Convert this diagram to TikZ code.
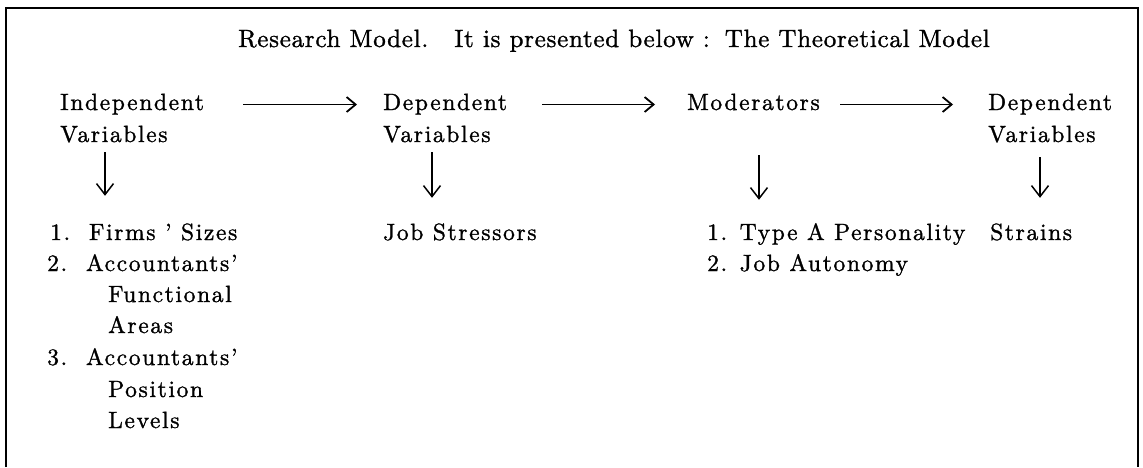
\documentclass[tikz,border=0pt]{standalone}
\usepackage{fontspec}
\setmainfont{lmroman10-regular.otf}[LetterSpace=7,FakeBold=1.2]
\usetikzlibrary{arrows.meta}

\begin{document}
\begin{tikzpicture}[x=1pt,y=-1pt,
    txt/.style={inner sep=0pt, anchor=base west, font=\fontsize{23.5}{31}\selectfont,
      text height=16pt, text depth=5pt},
    harr/.style={line width=1.8pt, -{Straight Barb[length=9pt,width=15pt]}},
    varr/.style={line width=1.5pt, -{Straight Barb[length=11pt,width=17pt]}}]
  \useasboundingbox (0,0) rectangle (1143,467);
  % frame, open at the bottom
  \draw[line width=2.2pt] (6,467) -- (6,8) -- (1138,8) -- (1138,467);

  \node[txt, font=\fontsize{25}{31}\selectfont\addfontfeature{LetterSpace=3}] (title) at (238,47)
    {Research Model.\hspace{26pt}It is presented below :\hspace{15pt}The Theoretical Model};

  % top row
  \node[txt] (indep) at (60,110) {Independent};
  \node[txt] (indepvar) at (60,142) {Variables};
  \node[txt] (depa) at (383,110) {Dependent};
  \node[txt] (depavar) at (383,142) {Variables};
  \node[txt] (moder) at (687,110) {Moderators};
  \node[txt] (depb) at (988,110) {Dependent};
  \node[txt] (depbvar) at (988,142) {Variables};

  % lists
  \node[txt] (firms) at (50,240) {1.\ \ Firms ' Sizes};
  \node[txt] (accta) at (47,271) {2.\ \ Accountants'};
  \node[txt] (funcl) at (108,302) {Functional};
  \node[txt] (areas) at (108,333) {Areas};
  \node[txt] (acctb) at (47,365) {3.\ \ Accountants'};
  \node[txt] (posn) at (108,397) {Position};
  \node[txt] (levels) at (108,428) {Levels};
  \node[txt] (stress) at (383,240) {Job Stressors};
  \node[txt] (typea) at (707,240) {1. Type A Personality};
  \node[txt] (auton) at (707,271) {2. Job Autonomy};
  \node[txt] (strains) at (990,240) {Strains};

  % arrows
  \draw[harr] ([xshift=183pt]indep.west) -- ([xshift=-26pt]depa.west);
  \draw[harr] ([xshift=159pt]depa.west) -- ([xshift=-32pt]moder.west);
  \draw[harr] ([xshift=153pt]moder.west) -- ([xshift=-35pt]depb.west);
  \draw[varr, shorten <=5pt, shorten >=28pt] ([xshift=45pt]indepvar.south west) -- ([xshift=45pt]indepvar.south west |- firms.north);
  \draw[varr, shorten <=5pt, shorten >=26pt] ([xshift=49pt]depavar.south west) -- ([xshift=49pt]depavar.south west |- stress.north);
  \draw[varr, shorten <=40pt, shorten >=24pt] ([xshift=72pt]moder.south west) -- ([xshift=72pt]moder.south west |- typea.north);
  \draw[varr, shorten <=10pt, shorten >=26pt] ([xshift=52pt]depbvar.south west) -- ([xshift=52pt]depbvar.south west |- strains.north);
\end{tikzpicture}
\end{document}
